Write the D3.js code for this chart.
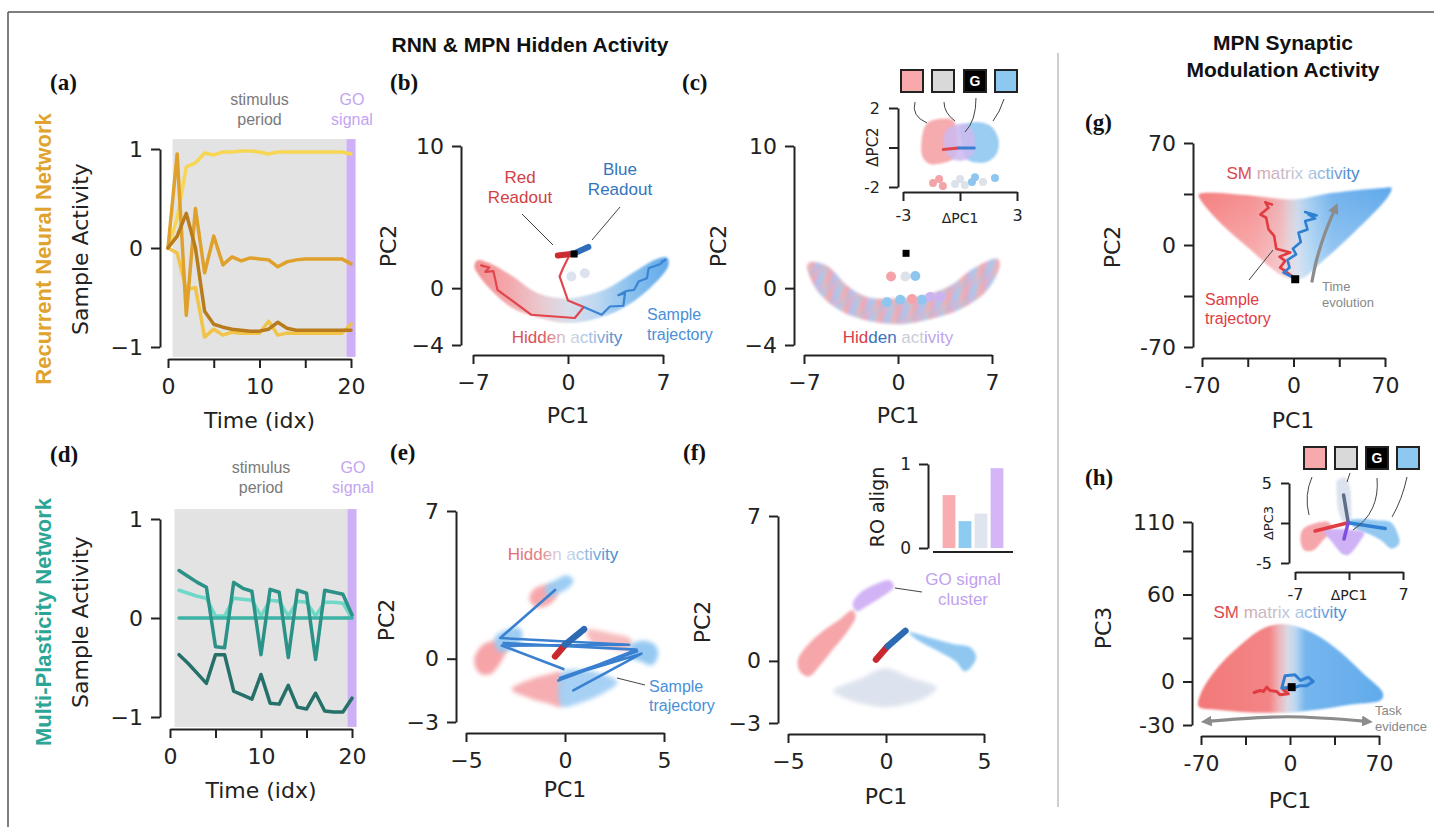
<!DOCTYPE html>
<html><head><meta charset="utf-8">
<script src="https://cdn.jsdelivr.net/npm/d3@7"></script>
<style>
body{margin:0;background:#fff;}
.ax path,.ax line{stroke:#222;stroke-width:2;}
.ax text{font-family:"DejaVu Sans",sans-serif;font-size:22px;fill:#222;}
</style></head><body>
<svg id="fig" width="1434" height="827"></svg>
<script>
// ---- data ----
var rnnT = [0,1,2,3,4,5,6,7,8,9,10,11,12,13,14,15,16,17,18,19,20];
var rnnLight1 = [0,0.3,0.82,0.86,0.96,0.94,0.97,0.97,0.98,0.98,0.97,0.95,0.97,0.97,0.97,0.97,0.97,0.97,0.97,0.97,0.95];
var rnnLight2 = [0,-0.05,-0.42,-0.4,-0.9,-0.82,-0.88,-0.85,-0.86,-0.86,-0.86,-0.74,-0.88,-0.86,-0.86,-0.86,-0.86,-0.86,-0.86,-0.86,-0.77];
var rnnMid = [0,0.95,-0.68,0.4,-0.25,0.12,-0.17,-0.09,-0.13,-0.1,-0.11,-0.12,-0.19,-0.14,-0.12,-0.11,-0.11,-0.11,-0.11,-0.11,-0.16];
var rnnDark = [0,0.12,0.35,0,-0.64,-0.77,-0.8,-0.82,-0.83,-0.84,-0.84,-0.82,-0.75,-0.81,-0.83,-0.83,-0.83,-0.83,-0.83,-0.83,-0.83];
var rnnColors = ["#f1c447","#f6d653","#dfa12c","#b87c1c"];

var mpnT = [1,2,3,4,5,6,7,8,9,10,11,12,13,14,15,16,17,18,19,20];
var mpnLight = [0.28,0.25,0.22,0.2,0.02,0.02,0.2,0.19,0.18,0.02,0.18,0.17,0.02,0.17,0.16,0.02,0.16,0.16,0.15,0];
var mpnFlat = [0,0,0,0,0,0,0,0,0,0,0,0,0,0,0,0,0,0,0,0];
var mpnZig = [0.48,0.42,0.36,0.31,-0.29,-0.3,0.36,0.3,0.27,-0.37,0.29,0.26,-0.4,0.28,0.25,-0.42,0.28,0.26,0.24,0.03];
var mpnLow = [-0.37,-0.46,-0.56,-0.66,-0.37,-0.37,-0.74,-0.78,-0.82,-0.57,-0.86,-0.87,-0.68,-0.9,-0.92,-0.76,-0.94,-0.95,-0.95,-0.81];
var mpnColors = ["#6fd8c6","#3cb3a4","#2b9288","#25716a"];

var stimWindow = [0.5,19.5], goWindow = [19.5,20.5], bgSpan = [-1.1,1.1];

var bBand = [[-6.7,1.95],[-5.9,1.8],[-4.1,0.85],[-2.35,-0.3],[-0.6,-0.7],[0.9,-0.6],[2.85,-0.05],[4.8,1.1],[6.55,2.05],[7.3,2.15],[7.4,1.6],[5.8,-0.2],[3.85,-1.5],[1.85,-2.2],[-0.12,-2.45],[-2.1,-2.1],[-4.1,-1.4],[-5.6,-0.2],[-6.6,0.95],[-6.9,1.5]];
var bRedTraj = [[0.12,2.34],[-0.37,1.4],[-0.62,0.82],[0,-0.87],[1.16,-1.33],[0.5,-2.1],[-2.72,-1.87],[-5.2,-0.12],[-5.5,1.2],[-6.1,1.15],[-5.8,1.45],[-6.4,1.6],[-6.19,1.52]];
var bBlueTraj = [[1.16,-1.33],[2.48,-1.87],[3.09,-1.29],[4.08,-1.24],[4.2,-0.35],[3.7,-0.5],[4.3,-0.2],[4.88,-0.12],[5.2,0.47],[5.82,0.7],[5.94,1.4],[6.8,1.7],[7.18,2.0],[6.9,1.85]];
var bRedRO = [[-0.75,2.3],[0.4,2.42]], bBlueRO = [[0.4,2.42],[1.5,2.9]];
var bStart = [0.45,2.4];
var bDots = [[0.25,0.82],[1.24,1.05]];

var cBand = [[-6.5,1.8],[-5.3,1.55],[-3.8,0.15],[-2.3,-0.65],[-0.3,-0.75],[1.9,-0.55],[3.9,0.15],[5.6,1.35],[7.4,2.05],[7.55,1.6],[6.6,-0.15],[4.65,-1.45],[2.4,-2.15],[0.17,-2.5],[-2.3,-2.25],[-4.3,-1.55],[-5.8,-0.4],[-6.6,0.95],[-6.75,1.6]];
var cPalette = ["#f4a3a8","#9fcff2","#cdb6f0","#f6b4b8","#8ec6f0"];
var cDots = [[-0.52,0.82,"#f4a3a8"],[0.55,0.82,"#dde1ea"],[1.29,0.85,"#8ec6f0"],[0.17,-0.82,"#8ec6f0"],[1.04,-0.77,"#f4a3a8"],[1.79,-0.82,"#8ec6f0"],[2.4,-0.63,"#cbb2f0"],[3.15,-0.63,"#cbb2f0"],[-0.82,-1.0,"#8ec6f0"]];
var cStart = [0.6,2.45];

var ciPink = [[-2.02,0.35],[-1.75,1.2],[-1.05,1.45],[-0.35,1.37],[-0.17,0.52],[-0.26,-0.49],[-0.7,-0.74],[-1.58,-0.83],[-1.96,-0.49]];
var ciLav = [[-0.79,0.77],[-0.35,1.11],[0.26,1.2],[0.7,0.77],[0.7,-0.32],[0.17,-0.66],[-0.44,-0.57],[-0.79,-0.15]];
var ciBlue = [[0,1.03],[0.7,1.28],[1.58,1.11],[2.02,0.44],[1.93,-0.32],[1.4,-0.74],[0.7,-0.74],[0.26,-0.49],[0.09,0.35]];
var ciDots = [[-1.42,-1.8,"#f4a3a8"],[-1.1,-1.6,"#f4a3a8"],[-0.9,-1.95,"#f4a3a8"],[-0.26,-1.85,"#dde1ea"],[0,-1.6,"#dde1ea"],[0.26,-1.9,"#dde1ea"],[0.63,-1.75,"#8ec6f0"],[0.79,-1.5,"#8ec6f0"],[1.21,-1.75,"#dde1ea"],[1.84,-1.55,"#8ec6f0"]];
var ciRed = [[-0.88,-0.1],[-0.09,-0.02]], ciBlueLine = [[-0.09,-0.02],[0.75,-0.02]];

var eTopPink = [[-1.8,2.85],[-1.55,3.3],[-0.95,3.5],[-0.4,3.4],[-0.45,2.9],[-0.95,2.5],[-1.5,2.45]];
var eTopBlue = [[-1.0,3.4],[-0.42,3.75],[0.1,3.95],[0.42,3.72],[0.2,3.38],[-0.34,3.1],[-0.84,2.95]];
var eLeftBlue = [[-3.55,1.0],[-2.94,1.38],[-2.3,1.45],[-2.15,1.06],[-2.6,0.5],[-3.35,0.35]];
var eLeftPink = [[-4.55,0.11],[-4.15,0.65],[-3.5,0.85],[-2.95,0.6],[-3.2,-0.1],[-3.75,-0.72],[-4.25,-0.72],[-4.55,-0.32]];
var eRightPink = [[1.1,1.35],[2.27,1.22],[3.35,0.9],[3.2,0.42],[2.27,0.5],[1.35,0.78]];
var eRightBlue = [[3.3,0.62],[3.94,0.85],[4.55,0.65],[4.7,0.19],[4.4,-0.3],[3.8,-0.12],[3.35,0.05]];
var eBotPink = [[-2.7,-1.45],[-1.8,-1.0],[-0.92,-0.76],[-0.17,-0.66],[-0.17,-2.25],[-0.92,-2.1],[-1.85,-1.85]];
var eBotBlue = [[-0.17,-0.66],[0.76,-0.52],[1.8,-0.7],[2.65,-1.12],[1.8,-1.7],[0.76,-2.1],[-0.17,-2.25]];
var eTraj1 = [[-0.08,-0.49],[-3.19,0.62],[3.24,0.66],[-3.27,0.98],[-0.5,3.26]];
var eTraj2 = [[-3.1,0.74],[3.61,0.43],[-0.34,-1.03],[3.64,0.35],[-0.25,-0.91],[3.86,0.24],[0.42,-1.5]];
var eRedRO = [[-0.5,0.11],[0,0.66]], eBlueRO = [[0,0.66],[0.96,1.4]];

var fPurple = [[-1.7,2.75],[-1.3,3.3],[-0.51,3.72],[0.17,3.9],[0.4,3.6],[-0.17,3.12],[-1.03,2.62],[-1.5,2.4]];
var fPink = [[-4.5,0.03],[-4.15,0.6],[-3.25,1.42],[-2.4,1.98],[-1.71,2.45],[-1.55,2.15],[-1.95,1.45],[-2.65,0.62],[-3.35,-0.2],[-3.95,-0.75],[-4.4,-0.5]];
var fBlue = [[1.15,1.38],[2.23,1.12],[3.42,0.82],[4.3,0.66],[4.6,0.19],[4.3,-0.34],[4.0,-0.5],[3.55,-0.02],[2.7,0.45],[1.65,0.98]];
var fGray = [[-2.7,-1.45],[-1.37,-0.88],[-0.05,-0.35],[1.25,-0.8],[2.6,-1.3],[2.05,-1.75],[1.0,-2.1],[0,-2.25],[-1.0,-2.12],[-2.05,-1.82]];
var fRedRO = [[-0.51,0.06],[0.09,0.71]], fBlueRO = [[0.09,0.71],[0.99,1.45]];
var roGroups = ["red","blue","neutral","go"];
var roAlign = [0.63,0.32,0.41,0.95];
var roColors = ["#f8aeb0","#8ecbf2","#dfe4ee","#d4b6f7"];

var gCloud = [[-72.5,34.6],[-66,35.8],[-33,34],[0,31.2],[30.5,35.8],[68.7,39.2],[75,39.2],[72.5,33.5],[43.3,6.2],[17.8,-14.4],[7.6,-22.3],[0,-23.5],[-10.2,-20],[-33,-3],[-58.5,17.5],[-71.2,31.2]];
var gRed = [[1.3,-23],[-6.4,-17.8],[-10.2,-15.5],[-6.4,-10.9],[-10.7,-8],[-2.5,-5.2],[-13.2,-2.5],[-14.8,6.2],[-19.1,10.7],[-20.9,18.7],[-25.4,21],[-19.1,25.5],[-21.6,29.4],[-16.5,27.8]];
var gBlue = [[1.3,-23],[-7.6,-18.9],[-3,-15.5],[-4.6,-10.3],[2,-6.4],[-0.5,-2.5],[5.6,2],[3.8,8.4],[10.7,10.7],[8.9,16.4],[16.5,18.2],[11.5,21],[17.8,20.3],[8.9,22.6]];
var gStart = [1.3,-23.5];
var gArrow = [[14,-25.7],[17.8,-9.8],[24.2,8.4],[31.8,24.8]];

var hCloud = [[-71.8,-17.2],[-70,-8],[-57.4,9.2],[-41.8,23],[-23.5,35.6],[-13,39],[-5.2,39.7],[5.2,37.9],[20.9,32.1],[39.2,20.7],[57.4,5.7],[73.1,-8],[71.8,-12.6],[47,-16],[20.9,-19.5],[0,-21.3],[-31.3,-21.3],[-57.4,-19.5]];
var hRed = [[-28.2,-7.6],[-23.5,-6.2],[-20.9,-6.9],[-18.3,-3.9],[-15.7,-6.2],[-10.4,-6.9],[-7.8,-9.2],[-1.3,-8.5],[-5.2,-5.7],[-0.5,-3.9]];
var hBlue = [[-0.5,-3.9],[-6.5,-4.6],[-3.9,3.9],[3.9,4.6],[8.4,0.7],[14.4,3],[18.3,0],[13.1,-3],[7.3,-3],[2.6,-4.6]];
var hStart = [1.3,-3.9];
var hArrow = [[-65,-27.5],[-2,-24.3],[60,-27.5]];

var hiPink = [[-6.0,-0.8],[-4.6,-0.1],[-2.6,0.1],[-2.3,-0.9],[-3.4,-2.2],[-4.6,-3.4],[-5.8,-3.4],[-6.3,-2.1]];
var hiPurple = [[-3.2,-1.0],[-1.6,-0.75],[0.1,-0.85],[1.95,-1.2],[1.5,-2.2],[-0.1,-4.0],[-0.8,-3.9],[-2.1,-2.5]];
var hiGray = [[-1.5,5.3],[-0.5,5.7],[0.1,4.6],[0.3,2.0],[0.2,0.2],[-0.5,-0.1],[-1.3,1.2],[-1.6,3.7]];
var hiBlue = [[0.1,0.3],[1.85,0.5],[3.6,0.35],[5.4,0.1],[6.3,-1.3],[6.5,-2.6],[5.5,-3.2],[4.2,-2.2],[2.7,-1.4],[1.0,-0.8]];
var hiRed = [[-4.4,-1.0],[-0.1,0.04]], hiBlueLine = [[-0.1,0.04],[4.7,-0.7]];
var hiSlate = [[-0.7,3.5],[-0.1,0.04]], hiPurpLine = [[-0.1,0.04],[-0.65,-2.0]];

var legendKeys = ["pink","gray","G","blue"];
var legendFill = ["#f8a9ab","#d9d9d9","#000","#8dc8f1"];

// ---- setup ----
var svg = d3.select("#fig");
var defs = svg.append("defs");
function addBlur(id, sd){
  defs.append("filter").attr("id",id).attr("x","-30%").attr("y","-30%").attr("width","160%").attr("height","160%")
    .append("feGaussianBlur").attr("stdDeviation",sd);
}
addBlur("blur1",1.2); addBlur("blur15",1.6); addBlur("blur2",2); addBlur("blur3",3);
var mk = defs.append("marker").attr("id","arrowG").attr("viewBox","0 0 10 10").attr("refX",4).attr("refY",5)
  .attr("markerWidth",3.4).attr("markerHeight",3.4).attr("orient","auto-start-reverse");
mk.append("path").attr("d","M0,0L10,5L0,10z").attr("fill","#8c8c8c");

var SANS = "Liberation Sans, Arial, sans-serif";
function txt(x,y,s,o){
  o = o||{};
  var t = svg.append("text").attr("x",x).attr("y",y).text(s)
    .style("font-family",o.ff||SANS).style("font-size",(o.fs||16)+"px")
    .style("font-weight",o.fw||"normal").attr("fill",o.c||"#222")
    .attr("text-anchor",o.a||"start");
  if(o.rot){ t.attr("dy","0.36em").attr("transform","rotate(-90,"+x+","+y+")"); }
  return t;
}
function tgrad(id, stops){
  var lg = defs.append("linearGradient").attr("id",id).attr("x1",0).attr("x2",1).attr("y1",0).attr("y2",0);
  stops.forEach(function(s){ lg.append("stop").attr("offset",s[0]).attr("stop-color",s[1]); });
  return "url(#"+id+")";
}
function hgrad(id, sx, stops){
  var x0 = stops[0][0], x1 = stops[stops.length-1][0];
  var lg = defs.append("linearGradient").attr("id",id).attr("gradientUnits","userSpaceOnUse")
    .attr("x1",sx(x0)).attr("x2",sx(x1)).attr("y1",0).attr("y2",0);
  stops.forEach(function(s){ lg.append("stop").attr("offset",(s[0]-x0)/(x1-x0)).attr("stop-color",s[1]); });
  return "url(#"+id+")";
}
// repeating stripe gradient (mottled point-cloud look)
function stripes(id, x0, period, colors, angle){
  var lg = defs.append("linearGradient").attr("id",id).attr("gradientUnits","userSpaceOnUse")
    .attr("x1",x0).attr("x2",x0+period).attr("y1",0).attr("y2",0).attr("spreadMethod","repeat")
    .attr("gradientTransform","rotate("+(angle||0)+")");
  colors.forEach(function(c,i){ lg.append("stop").attr("offset",i/(colors.length-1)).attr("stop-color",c); });
  return "url(#"+id+")";
}
function pathGen(P){ return d3.line().x(function(d){return P.x(d[0]);}).y(function(d){return P.y(d[1]);}); }
function blob(P, pts, fill, op, filt){
  return svg.append("path").attr("d", pathGen(P).curve(d3.curveCatmullRomClosed.alpha(0.5))(pts))
    .attr("fill",fill).attr("fill-opacity",op==null?1:op).attr("filter",filt?"url(#"+filt+")":null);
}
function trace(P, pts, color, w, curve){
  var gen = pathGen(P); if(curve) gen.curve(curve);
  return svg.append("path").attr("d", gen(pts)).attr("fill","none").attr("stroke",color)
    .attr("stroke-width",w).attr("stroke-linejoin","round").attr("stroke-linecap","round");
}
function square(P, pt, s){
  svg.append("rect").attr("x",P.x(pt[0])-s/2).attr("y",P.y(pt[1])-s/2).attr("width",s).attr("height",s).attr("fill","#000");
}
function axes(P, o){
  var fmt = o.fmt || d3.format("");
  var g = svg.append("g");
  if(o.yt){
    var ya = d3.axisLeft(P.y).tickValues(o.yt).tickFormat(function(d){return o.yl.indexOf(d)>=0?fmt(d):"";})
      .tickSize(o.ts||9).tickSizeOuter(0).tickPadding(o.ypad||8);
    var yg = g.append("g").attr("class","ax").attr("transform","translate("+P.ax+",0)").call(ya);
    if(o.fs) yg.selectAll("text").style("font-size",o.fs+"px");
  }
  if(o.xt){
    var xa = d3.axisBottom(P.x).tickValues(o.xt).tickFormat(function(d){return o.xl.indexOf(d)>=0?fmt(d):"";})
      .tickSize(o.ts||9).tickSizeOuter(0).tickPadding(o.xpad||10);
    var xg = g.append("g").attr("class","ax").attr("transform","translate(0,"+P.ay+")").call(xa);
    if(o.fs) xg.selectAll("text").style("font-size",o.fs+"px");
  }
}
var plain = function(d){ return String(d); };

// ---- frame ----
svg.append("line").attr("x1",8).attr("y1",12).attr("x2",1434).attr("y2",12).attr("stroke","#555").attr("stroke-width",1.5);
svg.append("line").attr("x1",8).attr("y1",12).attr("x2",8).attr("y2",827).attr("stroke","#555").attr("stroke-width",1.5);
svg.append("line").attr("x1",1058).attr("y1",53).attr("x2",1058).attr("y2",807).attr("stroke","#bdbdbd").attr("stroke-width",1.5);

txt(530,52,"RNN & MPN Hidden Activity",{fs:21,fw:"bold",a:"middle",c:"#111"});
txt(1283,50,"MPN Synaptic",{fs:21,fw:"bold",a:"middle",c:"#111"});
txt(1283,77,"Modulation Activity",{fs:21,fw:"bold",a:"middle",c:"#111"});

var SERIF = "Liberation Serif, Times New Roman, serif";
[["(a)",50,90],["(b)",390,90],["(c)",682,90],["(d)",50,462],["(e)",390,460],["(f)",683,460],["(g)",1085,130],["(h)",1085,485]]
  .forEach(function(l){ txt(l[1],l[2],l[0],{ff:SERIF,fs:23,fw:"bold",c:"#111"}); });

// ---- (a) and (d): sample activity ----
function timePanel(P, t, series, colors, netName, netColor, lblY, titleY){
  svg.append("rect").attr("x",P.x(stimWindow[0])).attr("width",P.x(stimWindow[1])-P.x(stimWindow[0]))
    .attr("y",P.y(bgSpan[1])).attr("height",P.y(bgSpan[0])-P.y(bgSpan[1])).attr("fill","#e3e3e3");
  svg.append("rect").attr("x",P.x(goWindow[0])).attr("width",P.x(goWindow[1])-P.x(goWindow[0]))
    .attr("y",P.y(bgSpan[1])).attr("height",P.y(bgSpan[0])-P.y(bgSpan[1])).attr("fill","#cdb0f5");
  series.forEach(function(s,i){
    trace(P, t.map(function(v,j){return [v,s[j]];}), colors[i], 3.5);
  });
  axes(P,{yt:[-1,0,1],yl:[-1,0,1],xt:[0,5,10,15,20],xl:[0,10,20]});
  var cx = P.x(10);
  txt(cx, titleY, "stimulus",{fs:16,a:"middle",c:"#7a7a7a"});
  txt(cx, titleY+20, "period",{fs:16,a:"middle",c:"#7a7a7a"});
  txt(P.x(20)+1, titleY, "GO",{fs:16,a:"middle",c:"#c4a4f0"});
  txt(P.x(20)+1, titleY+20, "signal",{fs:16,a:"middle",c:"#c4a4f0"});
  txt(cx, P.ay+69, "Time (idx)",{ff:"DejaVu Sans",fs:22,a:"middle"});
  txt(80, lblY, "Sample Activity",{ff:"DejaVu Sans",fs:22,a:"middle",rot:true});
  txt(43, lblY, netName,{fs:22,fw:"bold",a:"middle",c:netColor,rot:true});
}
var PA = {x:d3.scaleLinear([0,20],[168,351]), y:d3.scaleLinear([-1,1],[347,149]), ax:160, ay:359};
timePanel(PA, rnnT, [rnnLight2,rnnLight1,rnnMid,rnnDark], rnnColors, "Recurrent Neural Network", "#e0a32e", 249, 105);
var PD = {x:d3.scaleLinear([0,20],[170,352]), y:d3.scaleLinear([-1,1],[717,519]), ax:160, ay:729};
timePanel(PD, mpnT, [mpnLight,mpnFlat,mpnZig,mpnLow], mpnColors, "Multi-Plasticity Network", "#2aa596", 622, 473);

// ---- (b) ----
var PB = {x:d3.scaleLinear([-7,7],[473,663]), y:d3.scaleLinear([-4,10],[345,146]), ax:461, ay:355};
var gB = hgrad("gB", PB.x, [[-7,"#f28a8c"],[-4.5,"#f3a2a6"],[-2,"#e8c6cc"],[0,"#d6dcea"],[2,"#bcd6f0"],[4.5,"#86bfee"],[7.3,"#5aa5e8"]]);
blob(PB, bBand, gB, 0.95, "blur1");
bDots.forEach(function(d){ svg.append("circle").attr("cx",PB.x(d[0])).attr("cy",PB.y(d[1])).attr("r",5).attr("fill","#dde3ee"); });
trace(PB, bRedTraj, "#e0464c", 2.2);
trace(PB, bBlueTraj, "#3a84d4", 2.2);
trace(PB, bRedRO, "#cc2b30", 6);
trace(PB, bBlueRO, "#2f6db8", 6);
square(PB, bStart, 7);
axes(PB,{yt:[-4,0,10],yl:[-4,0,10],xt:[-7,0,7],xl:[-7,0,7]});
txt(568,423,"PC1",{ff:"DejaVu Sans",fs:22,a:"middle"});
txt(388,246,"PC2",{ff:"DejaVu Sans",fs:22,a:"middle",rot:true});
txt(520,183,"Red",{fs:17,a:"middle",c:"#d33f45"});
txt(520,203,"Readout",{fs:17,a:"middle",c:"#d33f45"});
txt(620,175,"Blue",{fs:17,a:"middle",c:"#3574bd"});
txt(620,195,"Readout",{fs:17,a:"middle",c:"#3574bd"});
svg.append("line").attr("x1",522).attr("y1",214).attr("x2",553).attr("y2",245).attr("stroke","#444").attr("stroke-width",1);
svg.append("line").attr("x1",620).attr("y1",207).attr("x2",592).attr("y2",240).attr("stroke","#444").attr("stroke-width",1);
txt(647,320,"Sample",{fs:16,c:"#4a8fd8"});
txt(647,340,"trajectory",{fs:16,c:"#4a8fd8"});
var tgB = tgrad("tgB",[[0,"#d9505a"],[0.27,"#d9505a"],[0.42,"#dcaab2"],[0.52,"#d2d6e4"],[0.72,"#a6bfe2"],[1,"#3f7cc8"]]);
txt(567,343,"Hidden activity",{fs:17,a:"middle"}).attr("fill",tgB);

// ---- (c) ----
var PC = {x:d3.scaleLinear([-7,7],[804,992]), y:d3.scaleLinear([-4,10],[345,146]), ax:794, ay:355};
var cS1 = stripes("cS1", PC.x(0), 17, [cPalette[0],cPalette[2],cPalette[1],cPalette[3],cPalette[0]], 0);
var cS2 = stripes("cS2", PC.x(0), 11, [cPalette[4],cPalette[0],cPalette[4]], 35);
blob(PC, cBand, cS1, 0.95, "blur15");
blob(PC, cBand, cS2, 0.45, "blur15");
cDots.forEach(function(d){ svg.append("circle").attr("cx",PC.x(d[0])).attr("cy",PC.y(d[1])).attr("r",5).attr("fill",d[2]); });
square(PC, cStart, 7);
axes(PC,{yt:[-4,0,10],yl:[-4,0,10],xt:[-7,0,7],xl:[-7,0,7]});
txt(898,423,"PC1",{ff:"DejaVu Sans",fs:22,a:"middle"});
txt(718,246,"PC2",{ff:"DejaVu Sans",fs:22,a:"middle",rot:true});
var hc = txt(898,343,"",{fs:17,a:"middle"});
[["Hid","#d8404a"],["den","#3a74c0"],[" act","#c9cdd9"],["ivity","#c2a4ee"]].forEach(function(p){ hc.append("tspan").text(p[0]).attr("fill",p[1]); });

// (c) inset
var PCI = {x:d3.scaleLinear([-3,3],[903,1017]), y:d3.scaleLinear([-2,2],[187,108]), ax:898, ay:192};
blob(PCI, ciPink, "#f6a6ab", 0.95, "blur1");
blob(PCI, ciBlue, "#96caf1", 0.95, "blur1");
blob(PCI, ciLav, "#cdb8f0", 0.85, "blur1");
ciDots.forEach(function(d){ svg.append("circle").attr("cx",PCI.x(d[0])).attr("cy",PCI.y(d[1])).attr("r",4).attr("fill",d[2]); });
trace(PCI, ciRed, "#e0464c", 3);
trace(PCI, ciBlueLine, "#3a7fd0", 3);
axes(PCI,{yt:[-2,0,2],yl:[-2,2],xt:[-3,0,3],xl:[-3,3],fmt:plain,fs:16,ts:9,ypad:9,xpad:9});
txt(960,223,"ΔPC1",{ff:"DejaVu Sans",fs:14,a:"middle"});
txt(873,147,"ΔPC2",{ff:"DejaVu Sans",fs:15,a:"middle",rot:true});

function legendBoxes(xs, y, s){
  legendKeys.forEach(function(k,i){
    svg.append("rect").attr("x",xs[i]).attr("y",y).attr("width",s).attr("height",s)
      .attr("fill",legendFill[i]).attr("stroke","#222").attr("stroke-width",2);
    if(k==="G") txt(xs[i]+s/2, y+s/2+5, "G",{fs:14,fw:"bold",a:"middle",c:"#fff"});
  });
}
function connector(p){ svg.append("path").attr("d",p).attr("fill","none").attr("stroke","#444").attr("stroke-width",1); }
legendBoxes([901,932,964,995],70,22);
connector("M915,102Q911,116 927,123");
connector("M944,102Q944,113 955,121");
connector("M976,98Q976,121 965,132");
connector("M1004,99Q1000,112 993,121");

// ---- (e) ----
var PE = {x:d3.scaleLinear([-5,5],[466,664]), y:d3.scaleLinear([-3,7],[722,511]), ax:456, ay:733};
[[eTopPink,"#f6a2a6"],[eTopBlue,"#98caf2"],[eLeftPink,"#f59fa3"],[eLeftBlue,"#98caf2"],[eRightPink,"#f7b8bb"],[eRightBlue,"#8fc6f1"],[eBotPink,"#f6aaae"],[eBotBlue,"#a2cff3"]]
  .forEach(function(b){ blob(PE, b[0], b[1], 0.95, "blur2"); });
trace(PE, eTraj1, "#3a80d0", 2.6);
trace(PE, eTraj2, "#3a80d0", 2.6);
trace(PE, eRedRO, "#c9282e", 6.5);
trace(PE, eBlueRO, "#2d6ab4", 6.5);
axes(PE,{yt:[-3,0,7],yl:[-3,0,7],xt:[-5,0,5],xl:[-5,0,5]});
txt(565,797,"PC1",{ff:"DejaVu Sans",fs:22,a:"middle"});
txt(386,620,"PC2",{ff:"DejaVu Sans",fs:22,a:"middle",rot:true});
var tgE = tgrad("tgE",[[0,"#e06870"],[0.3,"#e2848a"],[0.42,"#d8c8d2"],[0.55,"#c8d8ea"],[0.75,"#86b2e2"],[1,"#3f7cc8"]]);
txt(563,560,"Hidden activity",{fs:17,a:"middle"}).attr("fill",tgE);
svg.append("line").attr("x1",617).attr("y1",678).attr("x2",645).attr("y2",685).attr("stroke","#444").attr("stroke-width",1);
txt(649,692,"Sample",{fs:16,c:"#4a8fd8"});
txt(649,711,"trajectory",{fs:16,c:"#4a8fd8"});

// ---- (f) ----
var PF = {x:d3.scaleLinear([-5,5],[788,984]), y:d3.scaleLinear([-3,7],[723,516]), ax:778, ay:734};
blob(PF, fGray, "#dde3ee", 1, "blur2");
blob(PF, fPink, "#f6a5a9", 1, "blur15");
blob(PF, fBlue, "#8fc7f1", 1, "blur15");
blob(PF, fPurple, "#d1b3f6", 1, "blur15");
trace(PF, fRedRO, "#c9282e", 6.5);
trace(PF, fBlueRO, "#2d6ab4", 6.5);
axes(PF,{yt:[-3,0,7],yl:[-3,0,7],xt:[-5,0,5],xl:[-5,0,5]});
txt(886,804,"PC1",{ff:"DejaVu Sans",fs:22,a:"middle"});
txt(702,622,"PC2",{ff:"DejaVu Sans",fs:22,a:"middle",rot:true});
svg.append("line").attr("x1",895).attr("y1",588).attr("x2",922).attr("y2",592).attr("stroke","#444").attr("stroke-width",1);
txt(963,585,"GO signal",{fs:17,a:"middle",c:"#c1a2ef"});
txt(963,605,"cluster",{fs:17,a:"middle",c:"#c1a2ef"});

// (f) inset bars
var PFI = {x:d3.scaleBand().domain(roGroups).range([941,1005]).paddingInner(0.2).paddingOuter(0.1),
           y:d3.scaleLinear([0,1],[548,464]), ax:928, ay:552};
svg.selectAll(".robar").data(roAlign).enter().append("rect").attr("class","robar")
  .attr("x",function(d,i){return PFI.x(roGroups[i]);}).attr("width",PFI.x.bandwidth())
  .attr("y",function(d){return PFI.y(d);}).attr("height",function(d){return PFI.y(0)-PFI.y(d);})
  .attr("fill",function(d,i){return roColors[i];});
axes(PFI,{yt:[0,1],yl:[0,1],fs:17,ts:9,ypad:8});
svg.append("line").attr("x1",933).attr("x2",1013).attr("y1",PFI.ay).attr("y2",PFI.ay).attr("stroke","#222").attr("stroke-width",2);
txt(877,507,"RO align",{ff:"DejaVu Sans",fs:19,a:"middle",rot:true});

// ---- (g) ----
var PG = {x:d3.scaleLinear([-70,70],[1202,1385]), y:d3.scaleLinear([-70,70],[347,143]), ax:1193, ay:358};
var gG = hgrad("gG", PG.x, [[-72,"#f47676"],[-30,"#f48a8c"],[-10,"#efa9ad"],[-3,"#dcc6cf"],[3,"#c6d4ea"],[12,"#9ccaf0"],[30,"#6aaeec"],[75,"#56a4ea"]]);
blob(PG, gCloud, gG, 0.95, "blur1");
var vG = defs.append("linearGradient").attr("id","vG").attr("x1",0).attr("x2",0).attr("y1",0).attr("y2",1);
vG.append("stop").attr("offset",0).attr("stop-color","#fff").attr("stop-opacity",0);
vG.append("stop").attr("offset",1).attr("stop-color","#fff").attr("stop-opacity",0.35);
blob(PG, gCloud, "url(#vG)", 1, "blur1");
trace(PG, gRed, "#e03c42", 2.6);
trace(PG, gBlue, "#2f7fd2", 2.6);
square(PG, gStart, 8);
trace(PG, gArrow, "#8c8c8c", 3.2, d3.curveCatmullRom).attr("stroke-linecap","butt").attr("marker-end","url(#arrowG)");
axes(PG,{yt:[-70,-35,0,35,70],yl:[-70,0,70],xt:[-70,-35,0,35,70],xl:[-70,0,70],fmt:plain});
txt(1293,428,"PC1",{ff:"DejaVu Sans",fs:22,a:"middle"});
txt(1112,247,"PC2",{ff:"DejaVu Sans",fs:22,a:"middle",rot:true});
var tgG = tgrad("tgG",[[0,"#d9474f"],[0.16,"#d9474f"],[0.22,"#d6a6ae"],[0.45,"#c4bcc8"],[0.6,"#b8cde6"],[1,"#3a7ccc"]]);
txt(1293,179,"SM matrix activity",{fs:17,a:"middle"}).attr("fill",tgG);
svg.append("line").attr("x1",1249).attr("y1",280).attr("x2",1273).attr("y2",250).attr("stroke","#444").attr("stroke-width",1);
txt(1205,305,"Sample",{fs:16,c:"#e03c42"});
txt(1205,324,"trajectory",{fs:16,c:"#e03c42"});
txt(1322,291,"Time",{fs:13,c:"#888"});
txt(1322,307,"evolution",{fs:13,c:"#888"});

// ---- (h) ----
var PH = {x:d3.scaleLinear([-70,70],[1201,1379]), y:d3.scaleLinear([-30,110],[725,522]), ax:1192, ay:736};
var gH = hgrad("gH", PH.x, [[-72,"#f27272"],[-16,"#f27e80"],[-9,"#ecb0b5"],[-2,"#d8d6e2"],[4,"#b8d6f2"],[12,"#6eb2ee"],[74,"#58a6ea"]]);
blob(PH, hCloud, gH, 0.95, "blur1");
trace(PH, hRed, "#e03c42", 3);
trace(PH, hBlue, "#2f7fd2", 3);
square(PH, hStart, 8);
trace(PH, hArrow, "#8c8c8c", 3.2, d3.curveCatmullRom).attr("stroke-linecap","butt")
  .attr("marker-end","url(#arrowG)").attr("marker-start","url(#arrowG)");
axes(PH,{yt:[-30,0,30,60,90,110],yl:[-30,0,60,110],xt:[-70,-35,0,35,70],xl:[-70,0,70],fmt:plain});
txt(1290,808,"PC1",{ff:"DejaVu Sans",fs:22,a:"middle"});
txt(1103,628,"PC3",{ff:"DejaVu Sans",fs:22,a:"middle",rot:true});
var tgH = tgrad("tgH",[[0,"#d9474f"],[0.16,"#d9474f"],[0.22,"#d6a6ae"],[0.45,"#c4bcc8"],[0.6,"#b8cde6"],[1,"#3a7ccc"]]);
txt(1280,618,"SM matrix activity",{fs:17,a:"middle"}).attr("fill",tgH);
txt(1375,715,"Task",{fs:13,c:"#888"});
txt(1375,731,"evidence",{fs:13,c:"#888"});

// (h) inset
var PHI = {x:d3.scaleLinear([-7,7],[1295,1403]), y:d3.scaleLinear([-5,5],[563,483]), ax:1289, ay:572};
blob(PHI, hiGray, "#dde3ee", 1, "blur1");
blob(PHI, hiPink, "#f6a6ab", 1, "blur1");
blob(PHI, hiBlue, "#93c8f1", 1, "blur1");
blob(PHI, hiPurple, "#cfb2f6", 1, "blur1");
trace(PHI, hiSlate, "#5e6e8a", 3.5);
trace(PHI, hiRed, "#e03c42", 3.5);
trace(PHI, hiBlueLine, "#2f7fd2", 3.5);
trace(PHI, hiPurpLine, "#7f4fe0", 3.5);
axes(PHI,{yt:[-5,0,5],yl:[-5,5],xt:[-7,0,7],xl:[-7,7],fmt:plain,fs:16,ts:8,ypad:9,xpad:9});
txt(1349,600,"ΔPC1",{ff:"DejaVu Sans",fs:14,a:"middle"});
txt(1268,523,"ΔPC3",{ff:"DejaVu Sans",fs:13,a:"middle",rot:true});
legendBoxes([1304,1335,1366,1397],447,22);
connector("M1312,477Q1304,495 1309,515");
connector("M1350,473L1347,482");
connector("M1377,478Q1380,512 1353,530");
connector("M1407,477Q1402,500 1392,517");
</script>
</body></html>
